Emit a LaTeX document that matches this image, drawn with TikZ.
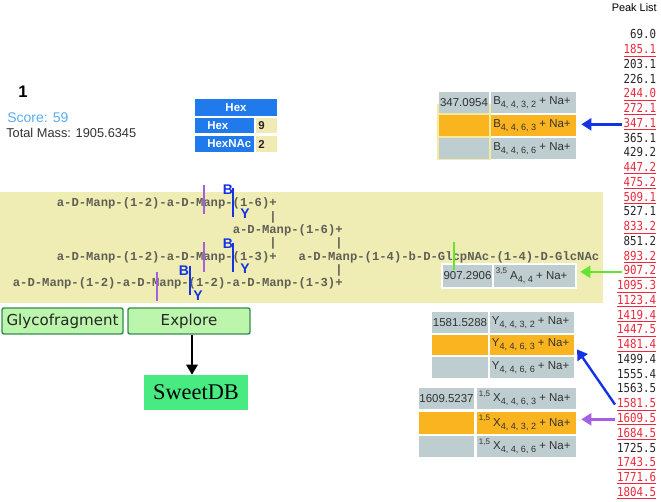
\documentclass[tikz,border=0pt]{standalone}
\usepackage{fontspec}
\setmainfont{Liberation Sans}
\newfontfamily\monofont{Liberation Mono}
\newfontfamily\peakfont[FakeStretch=0.87]{DejaVu Sans Mono}
\newfontfamily\btnfont{DejaVu Sans}
\newfontfamily\seriffont{Liberation Serif}
\usetikzlibrary{arrows.meta}
\definecolor{band}{RGB}{239,237,180}
\definecolor{cgray}{RGB}{190,205,208}
\definecolor{corange}{RGB}{250,180,32}
\definecolor{hexblue}{RGB}{32,122,235}
\definecolor{paleyel}{RGB}{242,234,180}
\definecolor{framey}{RGB}{244,234,160}
\definecolor{purp}{RGB}{165,95,225}
\definecolor{fblue}{RGB}{20,50,230}
\definecolor{fgreen}{RGB}{95,230,45}
\definecolor{peakred}{RGB}{235,40,60}
\definecolor{btnfill}{RGB}{188,245,172}
\definecolor{btnedge}{RGB}{55,140,80}
\definecolor{sweetg}{RGB}{72,235,130}
\definecolor{scoreblue}{RGB}{90,172,240}
\definecolor{structgray}{RGB}{95,95,85}
\definecolor{dtext}{RGB}{50,50,50}
\newcommand\subs[1]{\raisebox{-0.5ex}{\fontsize{6.8}{7}\selectfont #1}}
\newcommand\presup[1]{\raisebox{0.9ex}{\fontsize{6}{7}\selectfont #1}}
\newcommand\fcell[6]{\node[cellbox, fill=#6, minimum width={(#4-#2)*0.75pt}, minimum height={(#5-#3)*0.75pt}] (#1) at (#2,#3) {};}
\newcommand\sline[4]{\node[structtxt] (#1) at ({12.6+7.33*#2},{207+13.33*#3}) {#4};}
\begin{document}
\begin{tikzpicture}[x=0.75pt,y=-0.75pt,
  cellbox/.style={inner sep=0pt, outer sep=0pt, anchor=north west, draw=none},
  ctext/.style={inner sep=0pt, text=dtext, font=\fontsize{8.6}{10}\selectfont},
  structtxt/.style={inner sep=0pt, anchor=base west, text=structgray, font={\monofont\bfseries\fontsize{9.16}{11}\selectfont}},
  peak/.style={inner sep=0pt, outer sep=1.5pt, anchor=base east, font={\peakfont\fontsize{9.3}{10}\selectfont}},
  marklab/.style={inner sep=0pt, text=fblue, font={\bfseries\fontsize{10.5}{12}\selectfont}},
  purpmark/.style={draw=purp, line width=1.5pt},
  bluemark/.style={draw=fblue, line width=1.7pt},
  hexlab/.style={inner sep=0pt, text=white, font={\bfseries\fontsize{8.6}{10}\selectfont}},
  cnt/.style={inner sep=0pt, text=black!85, font={\bfseries\fontsize{8.6}{10}\selectfont}},
  btn/.style={draw=btnedge, line width=1.1pt, fill=btnfill, rounded corners=1.5pt, inner sep=0pt, font={\btnfont\fontsize{11.3}{13}\selectfont}, text=black!85},
  parrow/.style={line width=1.8pt, -{Triangle[length=7.5pt,width=9pt]}, shorten >=4pt}
]
\useasboundingbox (0,0) rectangle (661,502);
\fill[white] (0,0) rectangle (661,502);

% left info
\node[inner sep=0pt, font={\bfseries\fontsize{12.5}{14}\selectfont}] (num) at (23,92) {1};
\node[inner sep=0pt, anchor=west, text=scoreblue, font=\fontsize{10.5}{12}\selectfont] (score) at (7,118) {Score: 59};
\node[inner sep=0pt, anchor=west, text=dtext, font=\fontsize{9.6}{11}\selectfont] (mass) at (6,133) {Total Mass: 1905.6345};

% hex table
\node[cellbox, fill=hexblue, minimum width={82*0.75pt}, minimum height={17*0.75pt}] (hexh) at (195,99) {};
\node[hexlab] (hexht) at (hexh.center) {Hex};
\fcell{hr1}{195}{118}{254}{133}{hexblue}
\node[hexlab, anchor=west] (hr1t) at ([xshift=9pt]hr1.west) {Hex};
\fcell{hc1}{256}{118}{277}{133}{paleyel}
\node[cnt, anchor=west] (hc1t) at ([xshift=1.5pt]hc1.west) {9};
\fcell{hr2}{195}{136}{254}{152}{hexblue}
\node[hexlab, anchor=west] (hr2t) at ([xshift=9pt]hr2.west) {HexNAc};
\fcell{hc2}{256}{136}{277}{152}{paleyel}
\node[cnt, anchor=west] (hc2t) at ([xshift=1.5pt]hc2.west) {2};

% band
\fill[band] (0,192) rectangle (603,303);

% structure text
\sline{s1}{6}{0}{a-D-Manp-(1-2)-a-D-Manp-(1-6)+}
\sline{s2}{35}{1}{|}
\sline{s3}{30}{2}{a-D-Manp-(1-6)+}
\sline{s4}{35}{3}{|}
\sline{s5}{44}{3}{|}
\sline{s6}{6}{4}{a-D-Manp-(1-2)-a-D-Manp-(1-3)+}
\sline{s7}{39}{4}{a-D-Manp-(1-4)-b-D-GlcpNAc-(1-4)-D-GlcNAc}
\sline{s8}{44}{5}{|}
\sline{s9}{0}{6}{a-D-Manp-(1-2)-a-D-Manp-(1-2)-a-D-Manp-(1-3)+}

% fragment marks
\draw[purpmark] (204,185) -- (204,214);
\draw[purpmark] (204,242) -- (204,272);
\draw[purpmark] (157,272) -- (157,301);
\draw[bluemark] (233,188) -- (233,217);
\draw[bluemark] (233,243) -- (233,272);
\draw[bluemark] (190,266) -- (190,295);
\node[marklab] (bl1) at (228,190) {B};
\node[marklab] (yl1) at (245,214) {Y};
\node[marklab] (bl2) at (228,244) {B};
\node[marklab] (yl2) at (245,269) {Y};
\node[marklab] (bl3) at (184,271) {B};
\node[marklab] (yl3) at (198,296) {Y};

% B table
\fill[framey] (436.5,104) rectangle (491,160.5);
\fcell{b1l}{439}{92}{489}{113}{cgray}
\fcell{b1r}{491}{92}{576}{113}{cgray}
\fcell{b2l}{439}{115}{489}{136}{corange}
\fcell{b2r}{491}{115}{576}{136}{corange}
\fcell{b3l}{439}{138}{489}{159}{cgray}
\fcell{b3r}{491}{138}{576}{159}{cgray}
\node[ctext] (b1lt) at (b1l.center) {347.0954};
\node[ctext, anchor=west] (b1rt) at ([xshift=1.5pt]b1r.west) {B\subs{4, 4, 3, 2}~+ Na+};
\node[ctext, anchor=west] (b2rt) at ([xshift=1.5pt]b2r.west) {B\subs{4, 4, 6, 3}~+ Na+};
\node[ctext, anchor=west] (b3rt) at ([xshift=1.5pt]b3r.west) {B\subs{4, 4, 6, 6}~+ Na+};

% A table
\fill[white] (441,263.5) rectangle (577,289.5);
\fcell{a1l}{443}{265}{492}{287}{cgray}
\fcell{a1r}{494}{265}{575}{287}{cgray}
\node[ctext] (a1lt) at (a1l.center) {907.2906};
\node[ctext, anchor=west] (a1rt) at ([xshift=1.2pt]a1r.west) {\presup{3,5} A\subs{4, 4}~+ Na+};
\draw[draw=fgreen, line width=1.7pt] (454,242) -- (454,270);

% Y table
\fcell{y1l}{432}{312}{488}{333}{cgray}
\fcell{y1r}{490}{312}{574}{333}{cgray}
\fcell{y2l}{432}{335}{488}{355}{corange}
\fcell{y2r}{490}{335}{574}{355}{corange}
\fcell{y3l}{432}{357}{488}{378}{cgray}
\fcell{y3r}{490}{357}{574}{378}{cgray}
\node[ctext] (y1lt) at (y1l.center) {1581.5288};
\node[ctext, anchor=west] (y1rt) at ([xshift=1.2pt]y1r.west) {Y\subs{4, 4, 3, 2}~+ Na+};
\node[ctext, anchor=west] (y2rt) at ([xshift=1.2pt]y2r.west) {Y\subs{4, 4, 6, 3}~+ Na+};
\node[ctext, anchor=west] (y3rt) at ([xshift=1.2pt]y3r.west) {Y\subs{4, 4, 6, 6}~+ Na+};

% X table
\fcell{x1l}{419}{388}{474}{409}{cgray}
\fcell{x1r}{477}{388}{576}{409}{cgray}
\fcell{x2l}{419}{412}{474}{434}{corange}
\fcell{x2r}{477}{412}{576}{434}{corange}
\fcell{x3l}{419}{436}{474}{457}{cgray}
\fcell{x3r}{477}{436}{576}{457}{cgray}
\node[ctext] (x1lt) at (x1l.center) {1609.5237};
\node[ctext, anchor=west] (x1rt) at ([xshift=1.2pt]x1r.west) {\presup{1,5} X\subs{4, 4, 6, 3}~+ Na+};
\node[ctext, anchor=west] (x2rt) at ([xshift=1.2pt]x2r.west) {\presup{1,5} X\subs{4, 4, 3, 2}~+ Na+};
\node[ctext, anchor=west] (x3rt) at ([xshift=1.2pt]x3r.west) {\presup{1,5} X\subs{4, 4, 6, 6}~+ Na+};

% buttons
\node[btn, minimum width={121*0.75pt}, minimum height={26*0.75pt}] (glyco) at (62.5,321) {Glycofragment};
\node[btn, minimum width={122*0.75pt}, minimum height={26*0.75pt}] (explore) at (189,321) {Explore};
\node[fill=sweetg, minimum width={104*0.75pt}, minimum height={35*0.75pt}, inner sep=0pt, font={\seriffont\fontsize{16.8}{18}\selectfont}] (sweet) at (196,392.5) {SweetDB};
\draw[line width=1.5pt, -{Triangle[length=7.5pt,width=8.5pt]}] ([xshift=2.25pt]explore.south) -- ([xshift=2.25pt]explore.south |- sweet.north);

% peak list
\node[inner sep=0pt, anchor=east, font=\fontsize{8.2}{10}\selectfont] (plh) at (657,8) {Peak List};
\foreach \v/\r [count=\i from 0] in {69.0/0,185.1/1,203.1/0,226.1/0,244.0/1,272.1/1,347.1/1,365.1/0,429.2/0,447.2/1,475.2/1,509.1/1,527.1/0,833.2/1,851.2/0,893.2/1,907.2/1,1095.3/1,1123.4/1,1419.4/1,1447.5/1,1481.4/1,1499.4/0,1555.4/0,1563.5/0,1581.5/1,1609.5/1,1684.5/1,1725.5/0,1743.5/1,1771.6/1,1804.5/1}{
  \ifnum\r=1
    \node[peak, text=peakred] (p\i) at (658,{39+14.75*\i}) {\underline{\v}};
  \else
    \node[peak, text=black!85] (p\i) at (658,{39+14.75*\i}) {\v};
  \fi
}

% arrows from peaks
\draw[parrow, draw=fblue] (p6.west) -- (p6.west -| b2r.east);
\draw[parrow, draw=fgreen] (p16.west) -- (p16.west -| a1r.east);
\draw[parrow, draw=fblue] (p25.west) -- (y2r.east);
\draw[parrow, draw=purp] (p26.west) -- (p26.west -| x2r.east);
\end{tikzpicture}
\end{document}
